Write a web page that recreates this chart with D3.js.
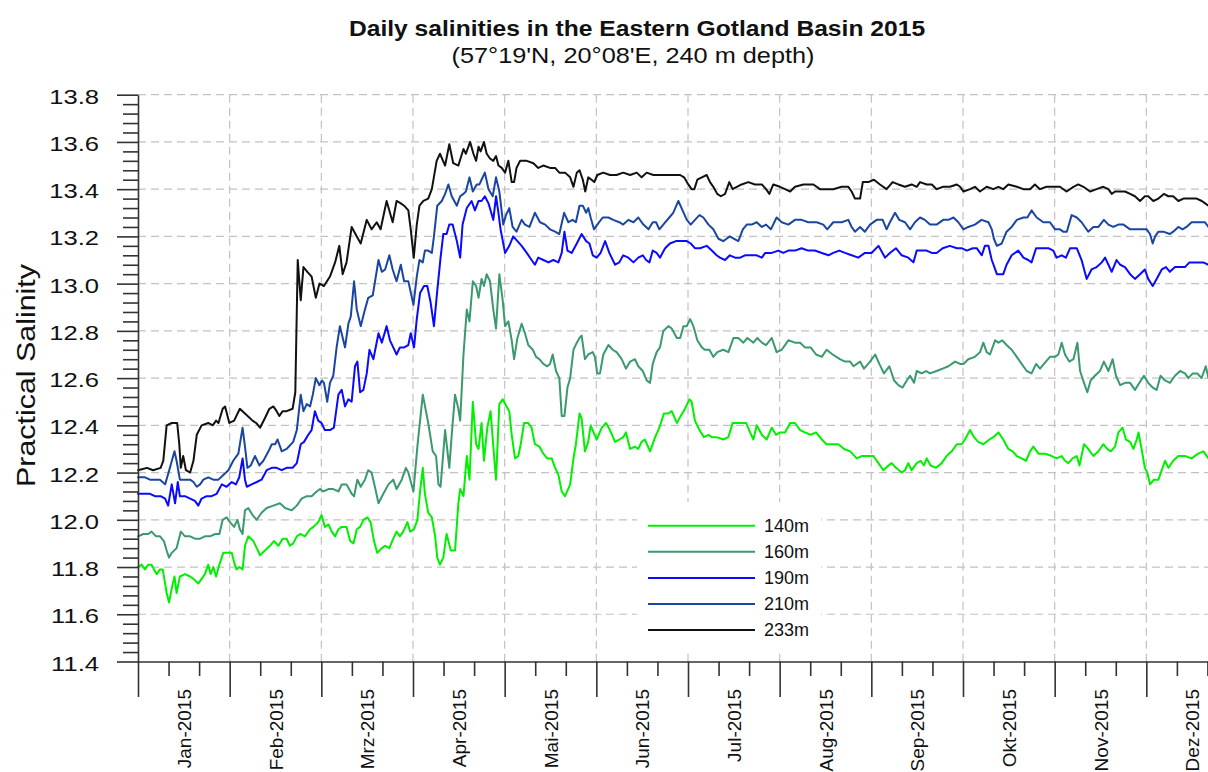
<!DOCTYPE html>
<html>
<head>
<meta charset="utf-8">
<script src="https://cdn.jsdelivr.net/npm/d3@7"></script>
<style>
  body { margin: 0; background: #ffffff; }
  svg { display: block; }
  text { font-family: "Liberation Sans", Arial, Helvetica, sans-serif; fill: #111; }
</style>
</head>
<body>
<svg id="chart" width="1208" height="772"></svg>
<script>
// ---------------- data ----------------
const titleText = "Daily salinities in the Eastern Gotland Basin 2015";
const subtitleText = "(57°19'N, 20°08'E, 240 m depth)";
const yAxisTitle = "Practical Salinity";
const monthLabels = ["Jan-2015","Feb-2015","Mrz-2015","Apr-2015","Mai-2015","Jun-2015",
                     "Jul-2015","Aug-2015","Sep-2015","Okt-2015","Nov-2015","Dez-2015"];
const yTickValues = [11.4, 11.6, 11.8, 12.0, 12.2, 12.4, 12.6, 12.8, 13.0, 13.2, 13.4, 13.6, 13.8];
const seriesNames = ["140m", "160m", "190m", "210m", "233m"];
const seriesColors = ["#00f000", "#3a9a6e", "#0a0aff", "#1a46a2", "#111111"];

// [day of year (0 = 1 Jan), practical salinity]
const s140 = [[0,11.80],[1.2,11.81],[2.3,11.79],[3.4,11.81],[4.5,11.81],[5.3,11.79],[6.2,11.77],[7.3,11.79],[8.2,11.79],[9,11.73],[9.5,11.69],[10.3,11.65],[11.2,11.71],[12.1,11.76],[12.8,11.69],[13.9,11.76],[15.6,11.77],[17.3,11.76],[18.4,11.75],[20,11.73],[21.1,11.75],[22.2,11.77],[23.3,11.81],[24.1,11.77],[25,11.80],[25.9,11.76],[27,11.81],[28.3,11.86],[29.6,11.86],[31.1,11.86],[31.9,11.82],[32.7,11.79],[33.6,11.80],[34.7,11.79],[35.5,11.89],[36.6,11.93],[38.3,11.91],[39.4,11.88],[40.5,11.85],[42.1,11.87],[43.8,11.89],[45.1,11.91],[46.6,11.89],[48,11.92],[49.3,11.92],[50.4,11.89],[51.5,11.90],[52.7,11.93],[53.8,11.94],[55.4,11.93],[57.1,11.96],[58.2,11.97],[59.8,11.99],[60.9,12.02],[62,11.97],[63.2,11.98],[64.3,11.95],[65.4,11.93],[66.5,11.96],[67.6,11.97],[69.2,11.97],[70.4,11.91],[71.5,11.90],[72.6,11.96],[73.7,11.97],[74.8,12.00],[76.1,12.01],[77.2,11.99],[78.3,11.91],[79.4,11.86],[80.9,11.88],[82,11.89],[83.4,11.88],[84.7,11.92],[85.8,11.95],[86.9,11.93],[88,11.95],[89.4,11.99],[90.3,11.95],[91.6,11.96],[92.7,12.00],[93.6,12.12],[94.5,12.22],[95.2,12.11],[96.3,12.03],[97.5,12.01],[98.6,11.93],[99.3,11.84],[100.2,11.81],[101.3,11.84],[102.4,11.94],[103.8,11.87],[105.2,11.87],[106.3,12.07],
  [106.9,12.13],[108,12.10],[109.1,12.27],[110,12.17],[111.1,12.50],[112.2,12.32],[113,12.30],[114,12.41],[114.8,12.25],[115.9,12.39],[117,12.46],[117.9,12.31],[118.8,12.17],[119.9,12.49],[121,12.51],[122.3,12.48],[123.2,12.46],[124,12.36],[125.1,12.26],[126.2,12.27],[127,12.32],[128.1,12.41],[129.5,12.41],[130.6,12.39],[131.7,12.32],[133.2,12.31],[134.5,12.28],[135.8,12.26],[137.3,12.26],[138.4,12.22],[139.5,12.19],[140.6,12.12],[141.7,12.10],[143.4,12.15],[144.5,12.26],[145.3,12.32],[146.5,12.45],[147.2,12.43],[148.3,12.29],[149.4,12.33],[150.2,12.40],[152.2,12.34],[153.9,12.39],[155.3,12.41],[156.6,12.38],[158.3,12.33],[159.7,12.34],[161,12.35],[161.9,12.37],[163.3,12.30],[164.9,12.31],[166,12.30],[167.1,12.33],[168.2,12.34],[169.9,12.29],[171.6,12.35],[173,12.39],[174.5,12.45],[176,12.45],[177.1,12.46],[178.8,12.41],[180.1,12.44],[181.5,12.47],[183,12.51],[183.7,12.50],[184.8,12.42],[186.3,12.38],[187.8,12.35],[189.3,12.36],[190.4,12.35],[192,12.35],[194.2,12.34],[195.9,12.35],[197.3,12.41],[198.9,12.41],[200.3,12.41],[201.8,12.41],[203.1,12.37],[204.2,12.34],[205.3,12.40],[207,12.36],[208.6,12.34],[210.3,12.39],[211.7,12.36],[213,12.37],[214.7,12.37],
  [216.4,12.41],[218,12.41],[219.7,12.38],[221.3,12.37],[223.2,12.36],[225,12.37],[226.9,12.34],[228.5,12.32],[230.2,12.32],[232.4,12.32],[234.3,12.30],[236.3,12.29],[238.5,12.26],[240.1,12.27],[242.3,12.27],[244,12.27],[245.7,12.24],[247.3,12.21],[249,12.23],[250.1,12.24],[251.5,12.22],[253.4,12.20],[254.5,12.21],[255.6,12.24],[256.7,12.21],[258.4,12.24],[259.7,12.25],[260.8,12.23],[261.7,12.26],[263,12.23],[264.8,12.22],[266.7,12.24],[268.3,12.27],[270,12.29],[271.7,12.32],[273.3,12.32],[274.4,12.34],[276.1,12.38],[277.4,12.35],[278.8,12.33],[280.5,12.32],[282.5,12.34],[283.8,12.35],[285.5,12.37],[287.1,12.34],[288.8,12.30],[290.2,12.29],[291.6,12.27],[293.2,12.26],[294.7,12.25],[296,12.29],[297.1,12.31],[298.8,12.28],[301,12.28],[303.2,12.27],[304.8,12.26],[306.5,12.27],[307.6,12.25],[308.7,12.24],[310.1,12.26],[311.5,12.27],[312.4,12.23],[313.9,12.32],[315.3,12.30],[317,12.27],[318.7,12.29],[320.3,12.32],[321.6,12.30],[322.8,12.29],[324.2,12.31],[325.3,12.37],[326.7,12.39],[327.8,12.34],
  [329.2,12.33],[330.3,12.30],[331.4,12.34],[332,12.37],[333,12.30],[334.1,12.22],[334.9,12.20],[335.8,12.15],[337.1,12.17],[338.6,12.17],[339.7,12.21],[340.8,12.25],[341.9,12.22],[343.5,12.25],[345.2,12.27],[347.4,12.27],[349.6,12.26],[351.8,12.28],[353.5,12.29],[355.2,12.26]];

const s160 = [[0,11.93],[1.8,11.94],[3.4,11.94],[4.5,11.95],[6,11.93],[7.3,11.93],[8.6,11.91],[9.5,11.87],[10.3,11.84],[11.2,11.86],[12.8,11.88],[14.2,11.95],[15.6,11.93],[17.3,11.93],[18.9,11.92],[20.6,11.92],[22.2,11.93],[23.9,11.93],[25.6,11.94],[27,11.94],[28.1,12.00],[29.4,12.01],[30.5,11.99],[31.9,11.97],[33,12.00],[33.8,11.96],[34.7,11.94],[35.5,12.04],[36.6,12.05],[38,12.02],[39.4,12.00],[41,12.03],[42.7,12.05],[44.9,12.06],[47.1,12.07],[48.8,12.05],[51,12.04],[52.7,12.06],[54.3,12.09],[56,12.10],[57.6,12.10],[59.3,12.12],[60.4,12.13],[61.5,12.12],[63.2,12.13],[64.8,12.13],[66.5,12.12],[67.6,12.15],[69.2,12.15],[70.9,12.11],[71.7,12.10],[72.8,12.17],[73.9,12.14],[75.3,12.17],[76.4,12.21],[77.5,12.20],[78.6,12.14],[79.8,12.07],[81.4,12.11],[83.1,12.15],[84.7,12.17],[85.8,12.13],[87.5,12.17],[88.9,12.22],[89.7,12.20],[91.4,12.12],[92.7,12.31],[94.5,12.53],[96.3,12.41],[97.8,12.29],[98.9,12.27],[99.7,12.15],[100.4,12.14],[101.9,12.38],[103.3,12.22],[104.1,12.36],[105.2,12.53],[106.3,12.47],
  [106.9,12.42],[108,12.70],[109.1,12.89],[110,12.84],[111.1,13.01],[112.2,12.99],[113,12.94],[114,13.02],[114.8,12.99],[115.7,13.04],[116.8,13.01],[117.9,12.89],[118.8,12.81],[119.9,13.04],[121,12.93],[121.8,12.82],[122.9,12.84],[124,12.76],[124.8,12.68],[125.9,12.77],[127.3,12.83],[128.4,12.79],[129.5,12.74],[131,12.72],[132.1,12.69],[133.2,12.68],[134.5,12.66],[135.8,12.65],[136.7,12.66],[137.6,12.70],[138.7,12.63],[139.8,12.60],[140.6,12.44],[141.5,12.44],[142.5,12.56],[143.4,12.60],[144.5,12.72],[145.6,12.75],[146.5,12.77],[147.2,12.78],[148.3,12.68],[149.4,12.70],[150.9,12.71],[151.6,12.69],[152.4,12.62],[153.3,12.62],[154.4,12.70],[156.1,12.74],[157.5,12.72],[158.8,12.71],[160.5,12.68],[161.9,12.64],[163.3,12.67],[164.9,12.68],[166,12.65],[167.5,12.63],[168.8,12.59],[169.9,12.58],[170.8,12.66],[172.1,12.71],[173.2,12.73],[174.3,12.80],[176,12.82],[177.1,12.81],[178.8,12.77],[179.9,12.77],[181,12.82],[182.1,12.82],[183.2,12.85],[184.3,12.82],[185.6,12.76],[187.1,12.73],[188.1,12.72],[189.6,12.72],[190.9,12.69],[192.2,12.71],[194.2,12.72],[195.9,12.71],[197.6,12.77],[199.2,12.77],[200.9,12.75],[202.2,12.77],[204.2,12.75],[205.5,12.77],[207,12.75],[208.4,12.74],[210.3,12.77],[211.9,12.71],[213.6,12.72],[215.8,12.76],
  [218,12.75],[219.7,12.75],[221.3,12.73],[223.2,12.73],[225,12.70],[226.9,12.69],[228.5,12.72],[230.5,12.70],[232.9,12.68],[234.6,12.67],[236.3,12.67],[237.4,12.65],[239.6,12.67],[240.9,12.64],[242.9,12.67],[244.6,12.70],[246,12.66],[247.5,12.62],[249.3,12.65],[250.9,12.59],[252.3,12.57],[253.7,12.56],[255.1,12.59],[256.2,12.61],[257.5,12.58],[258.4,12.63],[260,12.62],[261.5,12.63],[262.8,12.62],[265,12.63],[267,12.64],[268.9,12.65],[271.1,12.67],[272.8,12.66],[273.9,12.66],[275.5,12.68],[277.7,12.69],[279.4,12.71],[280.5,12.75],[281.6,12.71],[282.7,12.70],[284.4,12.76],[285.5,12.75],[286.8,12.76],[288.2,12.74],[289.9,12.72],[291.6,12.69],[293.2,12.66],[294.9,12.63],[296.5,12.62],[298,12.66],[299.3,12.64],[300.6,12.66],[302.6,12.69],[304.3,12.69],[305.4,12.70],[306.5,12.75],[307.6,12.70],[309,12.67],[310.4,12.68],[311.7,12.75],[312.6,12.63],[313.9,12.58],[315,12.54],[316.1,12.59],[317.5,12.61],[319.2,12.63],[320.5,12.67],[322,12.63],[323.4,12.68],[324.5,12.61],[325.9,12.57],[327.5,12.58],
  [329.2,12.58],[330.8,12.55],[332.3,12.58],[333.8,12.61],[335.2,12.58],[336.7,12.56],[338,12.55],[339.3,12.61],[340.8,12.59],[342.4,12.58],[344.1,12.61],[345.8,12.63],[347.4,12.62],[348.5,12.60],[350,12.62],[351.5,12.62],[352.9,12.60],[354.3,12.65],[355.2,12.60]];

const s190 = [[0,12.11],[2.3,12.11],[4,12.11],[5.6,12.10],[7.5,12.10],[9,12.09],[10,12.06],[11.2,12.15],[12.3,12.07],[13.2,12.16],[13.9,12.10],[15.6,12.10],[17.3,12.09],[18.9,12.08],[20,12.06],[21.1,12.09],[22.8,12.10],[24.4,12.10],[26.1,12.11],[27.8,12.15],[29.4,12.14],[31.1,12.16],[32.5,12.15],[33.6,12.18],[34.7,12.26],[35.5,12.17],[36.1,12.14],[37.7,12.15],[39.4,12.16],[41,12.17],[42.7,12.21],[44.4,12.22],[46,12.22],[47.7,12.21],[49.3,12.22],[51.3,12.22],[52.7,12.24],[54,12.32],[55.1,12.33],[56.5,12.36],[57.6,12.38],[58.7,12.46],[59.8,12.42],[60.9,12.41],[62,12.38],[63.7,12.38],[65,12.39],[66.5,12.53],[67.6,12.55],[68.7,12.48],[69.8,12.51],[70.9,12.50],[72,12.65],[72.8,12.67],[73.7,12.54],[74.8,12.55],[75.9,12.62],[76.8,12.72],[78.1,12.68],[79.8,12.79],[80.9,12.75],[82.5,12.82],[83.6,12.76],[84.7,12.73],[85.8,12.70],[86.9,12.73],[88.3,12.73],[89.7,12.74],[90.5,12.79],[91.6,12.73],[92.5,12.85],[93.6,12.96],[94.9,12.99],[96,12.99],[97.1,12.92],[98.2,12.82],[99.3,12.97],[100.4,13.11],[101.3,13.21],[102.4,13.21],[103.3,13.25],[104.4,13.25],[105.8,13.18],
  [106.9,13.11],[107.7,13.25],[109.1,13.32],[110.7,13.35],[111.8,13.31],[113,13.35],[114,13.35],[115.1,13.37],[116.3,13.34],[117,13.31],[117.9,13.27],[118.8,13.37],[119.6,13.30],[120.3,13.23],[121.8,13.13],[123.2,13.16],[124.5,13.20],[125.9,13.18],[127.3,13.16],[129,13.13],[130.6,13.10],[131.7,13.08],[132.8,13.11],[134.5,13.10],[136.2,13.09],[137.8,13.10],[139.5,13.09],[140.6,13.13],[141.5,13.22],[142.5,13.14],[143.9,13.13],[145.6,13.17],[147.2,13.21],[148.7,13.18],[149.8,13.17],[150.9,13.12],[152.2,13.11],[153.5,13.13],[155,13.18],[156.4,13.13],[158.3,13.08],[159.7,13.09],[161,13.12],[162.7,13.11],[164.4,13.09],[166,13.11],[167.5,13.12],[168.6,13.10],[169.7,13.09],[170.8,13.14],[172.1,13.13],[173.2,13.11],[174.9,13.15],[176.5,13.17],[178.5,13.18],[180.4,13.18],[182.1,13.18],[183.4,13.17],[184.8,13.15],[186.5,13.15],[188.7,13.16],[190.4,13.14],[192,13.12],[193.1,13.11],[194.8,13.10],[196.4,13.12],[198.1,13.11],[199.8,13.11],[201.4,13.12],[203.1,13.12],[205.3,13.12],[207,13.11],[208.1,13.13],[210.3,13.13],[212.5,13.14],[214.1,13.13],[215.8,13.14],
  [218,13.14],[220.2,13.15],[222.4,13.14],[224.6,13.14],[226.9,13.13],[229.1,13.12],[230.7,13.13],[232.7,13.14],[234.6,13.13],[236.8,13.12],[239,13.11],[241.2,13.13],[243.4,13.13],[245.7,13.16],[247.9,13.11],[249.5,13.13],[251.5,13.15],[253.4,13.12],[255.6,13.11],[257.3,13.09],[258.4,13.14],[260,13.14],[261.7,13.14],[263.4,13.13],[265,13.13],[267,13.15],[269.4,13.16],[271.7,13.15],[273.3,13.15],[275,13.14],[277,13.15],[278.3,13.15],[280,13.12],[281,13.16],[282.2,13.16],[283.3,13.10],[285,13.04],[287.1,13.04],[288.2,13.08],[289.9,13.12],[292.1,13.14],[293.8,13.11],[295.4,13.10],[296.5,13.09],[298,13.15],[299.9,13.15],[302.1,13.15],[303.7,13.14],[304.8,13.11],[306.5,13.12],[307.9,13.11],[309.3,13.15],[311.5,13.15],[313.1,13.10],[314.8,13.02],[316.4,13.06],[318.1,13.07],[319.8,13.09],[320.9,13.11],[322,13.08],[323.1,13.05],[324.7,13.10],[325.9,13.08],[327.5,13.07],
  [329.2,13.04],[330.8,13.02],[332.5,13.04],[334.1,13.06],[335.2,13.02],[336.7,12.99],[338,13.02],[339.7,13.06],[341.1,13.07],[342.4,13.05],[344.1,13.07],[345.8,13.07],[347.4,13.07],[348.9,13.09],[350.4,13.09],[351.8,13.09],[353.5,13.09],[355.2,13.08]];

const s210 = [[0,12.18],[2.3,12.18],[4,12.17],[5.6,12.17],[7.3,12.17],[9,12.15],[10.6,12.22],[12.1,12.29],[12.8,12.25],[13.9,12.17],[15.6,12.17],[17.3,12.17],[18.4,12.16],[19.5,12.14],[20.6,12.15],[21.7,12.17],[23.3,12.18],[25,12.17],[26.7,12.17],[28.3,12.19],[30,12.21],[31.6,12.25],[33.3,12.28],[34.7,12.39],[35.5,12.31],[36.3,12.22],[37.4,12.23],[38.8,12.27],[40.3,12.23],[41.6,12.25],[43.3,12.29],[44.4,12.32],[45.5,12.32],[46.3,12.34],[47.7,12.29],[49.3,12.30],[51.5,12.33],[52.7,12.38],[54,12.53],[54.9,12.46],[56,12.49],[57.1,12.48],[58,12.53],[59,12.60],[60.2,12.57],[61,12.59],[61.7,12.58],[62.8,12.50],[63.7,12.58],[64.8,12.61],[65.9,12.73],[67,12.82],[68.7,12.73],[69.8,12.83],[70.6,12.86],[71.7,13.01],[72.6,12.89],[73.9,12.82],[75.3,12.89],[76.4,12.94],[77.9,12.95],[79.8,13.10],[80.9,13.05],[82,13.06],[83.4,13.12],[84.5,13.06],[85.8,13.01],[87.2,13.08],[88.3,13.01],[89.7,13.01],[91.4,12.91],[92.5,13.03],[93.4,13.10],[94.5,13.09],[95.2,13.14],[96.3,13.14],[97.5,13.13],[98.2,13.20],[99.3,13.33],[100.8,13.35],[101.9,13.38],[103,13.42],[104.1,13.37],[105.8,13.33],
  [106.9,13.37],[108,13.38],[108.8,13.39],[110,13.45],[111.1,13.39],[112.4,13.42],[113.3,13.42],[114,13.44],[115.1,13.47],[116.3,13.40],[117.7,13.37],[118.8,13.45],[119.9,13.39],[121.2,13.25],[122.1,13.29],[123.2,13.32],[124.3,13.24],[125.6,13.22],[127.3,13.27],[128.4,13.25],[129.9,13.24],[131.7,13.30],[133.4,13.26],[135.1,13.25],[136.7,13.23],[138.4,13.22],[139.8,13.21],[141.4,13.30],[142.8,13.26],[144.2,13.27],[145.3,13.26],[146.5,13.33],[147.6,13.33],[148.7,13.30],[149.4,13.32],[150.2,13.28],[151.3,13.23],[152.4,13.25],[154.2,13.28],[156.1,13.28],[157.7,13.27],[159.7,13.26],[161,13.25],[162.7,13.27],[164.4,13.26],[166,13.28],[167.7,13.25],[169.4,13.23],[170.8,13.26],[171.9,13.26],[173,13.23],[174.3,13.25],[176.3,13.28],[177.6,13.30],[179.3,13.35],[180.7,13.31],[182.1,13.27],[183.4,13.25],[184.8,13.27],[186.3,13.29],[187.6,13.28],[189.3,13.25],[190.9,13.23],[192.6,13.19],[194.2,13.18],[195.3,13.19],[196.4,13.20],[197.8,13.19],[199.2,13.18],[200.7,13.23],[202,13.25],[203.6,13.25],[205.3,13.26],[207,13.24],[208.4,13.25],[210,13.23],[211.9,13.28],[213.6,13.26],[215.8,13.25],
  [218,13.27],[220.2,13.27],[222.4,13.26],[225.2,13.26],[227.4,13.25],[228.7,13.23],[230.7,13.26],[233.5,13.26],[235.7,13.27],[236.8,13.24],[237.9,13.22],[239.6,13.24],[241.2,13.22],[242.9,13.25],[245.1,13.27],[247.1,13.27],[248.4,13.23],[249.5,13.26],[251.2,13.30],[252.6,13.27],[254.5,13.26],[256.2,13.23],[257.8,13.26],[259.5,13.28],[261.1,13.27],[262.8,13.25],[265,13.25],[267.2,13.27],[268.9,13.27],[270.6,13.28],[272.2,13.26],[273.9,13.23],[275.5,13.24],[277.7,13.25],[279.9,13.27],[282.2,13.26],[283.3,13.23],[284,13.19],[285,13.16],[286.6,13.17],[288.2,13.22],[289.9,13.24],[291.6,13.27],[293.8,13.28],[295.1,13.28],[296.5,13.31],[298.2,13.28],[300.4,13.26],[302.6,13.26],[304.3,13.23],[305.9,13.23],[307,13.22],[308.2,13.22],[309.8,13.29],[311.5,13.28],[313.1,13.26],[314.2,13.24],[315.3,13.22],[317,13.24],[318.7,13.24],[320.5,13.27],[322,13.25],[323.6,13.24],[325.3,13.25],[327,13.25],
  [329.2,13.23],[330.8,13.23],[332.5,13.23],[334.7,13.23],[335.8,13.21],[336.7,13.17],[337.5,13.20],[338.6,13.22],[340.2,13.22],[342.4,13.21],[343.5,13.22],[345.2,13.24],[346.6,13.23],[347.9,13.24],[349.6,13.26],[351.3,13.26],[352.9,13.26],[354,13.26],[355.2,13.24]];

const s233 = [[0,12.21],[3,12.22],[5,12.21],[7.5,12.22],[8.4,12.25],[9.5,12.40],[11.2,12.41],[13,12.41],[13.7,12.32],[14.2,12.22],[15,12.27],[15.9,12.21],[17.3,12.20],[18.4,12.25],[19.5,12.36],[21.1,12.40],[23.3,12.41],[24.8,12.40],[25.9,12.42],[26.7,12.41],[28.1,12.47],[28.9,12.48],[30.3,12.41],[31.9,12.42],[33.8,12.47],[35.5,12.45],[38,12.42],[39.2,12.41],[40.5,12.39],[42.1,12.43],[43.6,12.47],[44.9,12.48],[46,12.46],[46.9,12.44],[48,12.46],[49.3,12.46],[51.3,12.47],[52.2,12.54],[53,13.10],[54,12.93],[54.9,13.07],[56.2,13.05],[57.6,13.03],[59,12.94],[60.2,13.00],[61.7,12.99],[63.7,13.03],[65.4,13.09],[66.8,13.16],[67.9,13.04],[69.2,13.09],[70.9,13.24],[72.6,13.20],[73.9,13.17],[75.9,13.27],[77.5,13.23],[79.2,13.26],[80.5,13.23],[82.5,13.35],[84.5,13.26],[85.8,13.35],[87.2,13.34],[88.3,13.33],[89.7,13.31],[90.5,13.23],[91.5,13.11],[92.5,13.25],[93.4,13.33],[94.7,13.35],[96.3,13.36],[97.5,13.40],[99.1,13.52],[100.2,13.55],[101.9,13.50],[103.3,13.59],[104.6,13.51],[106.3,13.50],
  [108,13.57],[108.8,13.55],[110.2,13.60],[111.3,13.55],[112.2,13.52],[113,13.58],[113.7,13.56],[114.8,13.60],[115.7,13.55],[116.8,13.53],[117.9,13.52],[118.8,13.54],[119.6,13.50],[120.7,13.49],[121.8,13.47],[122.9,13.52],[124,13.43],[124.8,13.43],[125.6,13.49],[126.8,13.52],[129,13.52],[131.2,13.51],[132.8,13.49],[134.5,13.50],[136.7,13.49],[138.4,13.49],[139.8,13.47],[141.7,13.47],[143.4,13.45],[144.5,13.41],[145.6,13.47],[146.5,13.48],[147.6,13.44],[148.4,13.39],[149.4,13.45],[150.5,13.44],[151.4,13.43],[152.4,13.46],[154.4,13.47],[156.6,13.46],[158.8,13.46],[161,13.47],[163.3,13.46],[165.5,13.47],[167.1,13.45],[168.8,13.47],[171,13.46],[173.2,13.46],[175.4,13.46],[177.6,13.46],[179.9,13.46],[181.2,13.45],[182.6,13.42],[183.7,13.40],[184.6,13.40],[185.6,13.44],[187.1,13.45],[188.7,13.46],[189.8,13.43],[190.9,13.41],[192.2,13.38],[193.4,13.37],[194.8,13.38],[196.2,13.43],[197.3,13.40],[198.7,13.41],[200.3,13.42],[202.5,13.43],[204.7,13.42],[207,13.42],[208.4,13.40],[209.5,13.38],[210.8,13.42],[213,13.41],[214.7,13.40],
  [216.4,13.39],[218,13.41],[220.8,13.42],[224.1,13.42],[226.3,13.40],[228.5,13.40],[230.7,13.40],[233.5,13.41],[235.7,13.41],[236.8,13.39],[237.9,13.36],[239.6,13.36],[240.5,13.43],[242.3,13.43],[244.2,13.44],[246.2,13.42],[248.4,13.40],[250.4,13.43],[252.3,13.42],[254.5,13.41],[256.7,13.42],[258.4,13.41],[259.5,13.43],[261.7,13.42],[263.4,13.42],[265,13.40],[267.2,13.41],[269.4,13.41],[271.7,13.42],[272.8,13.41],[273.9,13.39],[276.1,13.40],[277.7,13.41],[279.4,13.39],[281.6,13.41],[283.8,13.40],[285.5,13.41],[287.1,13.40],[288.8,13.42],[291.6,13.41],[293.8,13.40],[296,13.40],[297.6,13.42],[299.3,13.40],[301.5,13.41],[303.7,13.41],[305.9,13.41],[308.1,13.39],[310.4,13.41],[312,13.42],[313.7,13.41],[315.9,13.39],[318.1,13.40],[320.3,13.41],[322,13.40],[323.1,13.38],[324.2,13.39],[325.9,13.39],[327.5,13.39],
  [329.2,13.38],[330.8,13.37],[332.5,13.35],[334.1,13.37],[335.2,13.37],[336.9,13.35],[338.6,13.36],[340.4,13.38],[341.9,13.37],[343.5,13.37],[345.2,13.35],[346.9,13.36],[349.1,13.36],[351.3,13.36],[353,13.35],[354.1,13.34],[355.2,13.33]];

const seriesData = [s140, s160, s190, s210, s233];

// ---------------- layout ----------------
const W = 1208, H = 772;
const plotLeft = 138, plotRight = 1238, plotTop = 94.7, plotBottom = 661.5;
const daysInYear = 365;
const svg = d3.select("#chart");

const x = d3.scaleLinear().domain([0, daysInYear]).range([plotLeft, plotRight]);
const y = d3.scaleLinear().domain([11.4, 13.8]).range([plotBottom, plotTop]);

const monthEdges = d3.range(0, 13).map(i => i * daysInYear / 12);
const thirdTicks = d3.range(0, 12).flatMap(i => [(i + 1/3) * daysInYear / 12, (i + 2/3) * daysInYear / 12]);
const monthMids = d3.range(0, 12).map(i => (i + 0.5) * daysInYear / 12);
const minorY = d3.range(0, 61).map(i => 11.4 + i * 0.04).filter(v => Math.abs(((v - 11.4) / 0.2) - Math.round((v - 11.4) / 0.2)) > 1e-6);

const axisColor = "#333";
const gridColor = "#c2c2c2";

// grid
const grid = svg.append("g").attr("class", "grid");
grid.selectAll("line.h").data(yTickValues.filter(v => v > 11.4)).join("line")
  .attr("x1", plotLeft).attr("x2", plotRight)
  .attr("y1", d => y(d)).attr("y2", d => y(d))
  .attr("stroke", gridColor).attr("stroke-width", 1.2).attr("stroke-dasharray", "8,5");
grid.selectAll("line.v").data(monthEdges.slice(1)).join("line")
  .attr("x1", d => x(d)).attr("x2", d => x(d))
  .attr("y1", plotTop).attr("y2", plotBottom)
  .attr("stroke", gridColor).attr("stroke-width", 1.2).attr("stroke-dasharray", "8,5");

// legend background (covers grid)
const legendBox = { x0: 637, y0: 502, x1: 821, y1: 653 };
svg.append("rect")
  .attr("x", legendBox.x0).attr("y", legendBox.y0)
  .attr("width", legendBox.x1 - legendBox.x0).attr("height", legendBox.y1 - legendBox.y0)
  .attr("fill", "#ffffff");

// series lines
const line = d3.line().x(d => x(d[0])).y(d => y(d[1])).curve(d3.curveLinear);
const lines = svg.append("g").attr("class", "series");
seriesData.forEach((data, i) => {
  lines.append("path")
    .datum(data)
    .attr("d", line)
    .attr("fill", "none")
    .attr("stroke", seriesColors[i])
    .attr("stroke-width", 2)
    .attr("stroke-linejoin", "round")
    .attr("stroke-linecap", "round");
});

// y axis (major with labels)
const yAxis = d3.axisLeft(y).tickValues(yTickValues).tickSize(21).tickSizeOuter(0)
  .tickFormat(d3.format(".1f"));
const gy = svg.append("g").attr("transform", `translate(${plotLeft},0)`).call(yAxis);
gy.select(".domain").attr("stroke", axisColor).attr("stroke-width", 1.6);
gy.selectAll(".tick line").attr("stroke", axisColor).attr("stroke-width", 1.6);
gy.selectAll(".tick text")
  .attr("x", null).attr("dy", null).attr("y", null)
  .attr("transform", "translate(-39,8.5) scale(1.22,1)")
  .attr("text-anchor", "end")
  .attr("fill", "#111")
  .style("font-size", "21px")
  .style("font-family", '"Liberation Sans", Arial, sans-serif');

// y axis minor ticks
const yMinor = d3.axisLeft(y).tickValues(minorY).tickSize(15).tickSizeOuter(0).tickFormat("");
const gym = svg.append("g").attr("transform", `translate(${plotLeft},0)`).call(yMinor);
gym.select(".domain").remove();
gym.selectAll(".tick line").attr("stroke", axisColor).attr("stroke-width", 1.6);

// x axis: month boundaries (long) and thirds (short)
const xMajor = d3.axisBottom(x).tickValues(monthEdges).tickSize(35.5).tickSizeOuter(0).tickFormat("");
const gx = svg.append("g").attr("transform", `translate(0,${plotBottom})`).call(xMajor);
gx.select(".domain").attr("stroke", axisColor).attr("stroke-width", 1.6);
gx.selectAll(".tick line").attr("stroke", axisColor).attr("stroke-width", 1.6);

const xMinor = d3.axisBottom(x).tickValues(thirdTicks).tickSize(14.5).tickSizeOuter(0).tickFormat("");
const gxm = svg.append("g").attr("transform", `translate(0,${plotBottom})`).call(xMinor);
gxm.select(".domain").remove();
gxm.selectAll(".tick line").attr("stroke", axisColor).attr("stroke-width", 1.6);

// month labels (rotated, centred between month boundaries)
svg.append("g").selectAll("text").data(monthMids).join("text")
  .attr("transform", (d) => `translate(${x(d) + 7},689) rotate(-90)`)
  .attr("text-anchor", "end")
  .style("font-size", "19px")
  .text((d, i) => monthLabels[i]);

// titles
svg.append("text")
  .attr("transform", "translate(637,36) scale(1.12,1)")
  .attr("text-anchor", "middle")
  .style("font-size", "22px").style("font-weight", "bold")
  .text(titleText);
svg.append("text")
  .attr("transform", "translate(633,63) scale(1.15,1)")
  .attr("text-anchor", "middle")
  .style("font-size", "22px")
  .text(subtitleText);

// y axis title
svg.append("text")
  .attr("transform", "translate(35,375.5) rotate(-90) scale(1.17,1)")
  .attr("text-anchor", "middle")
  .style("font-size", "26px")
  .text(yAxisTitle);

// legend
const legendRowY = d3.range(0, 5).map(i => 525.7 + i * 26.1);
const lg = svg.append("g").attr("class", "legend");
seriesNames.forEach((name, i) => {
  lg.append("line")
    .attr("x1", 648).attr("x2", 755)
    .attr("y1", legendRowY[i]).attr("y2", legendRowY[i])
    .attr("stroke", seriesColors[i]).attr("stroke-width", 2);
  lg.append("text")
    .attr("x", 764).attr("y", legendRowY[i] + 6.3)
    .style("font-size", "18px")
    .text(name);
});
</script>
</body>
</html>
